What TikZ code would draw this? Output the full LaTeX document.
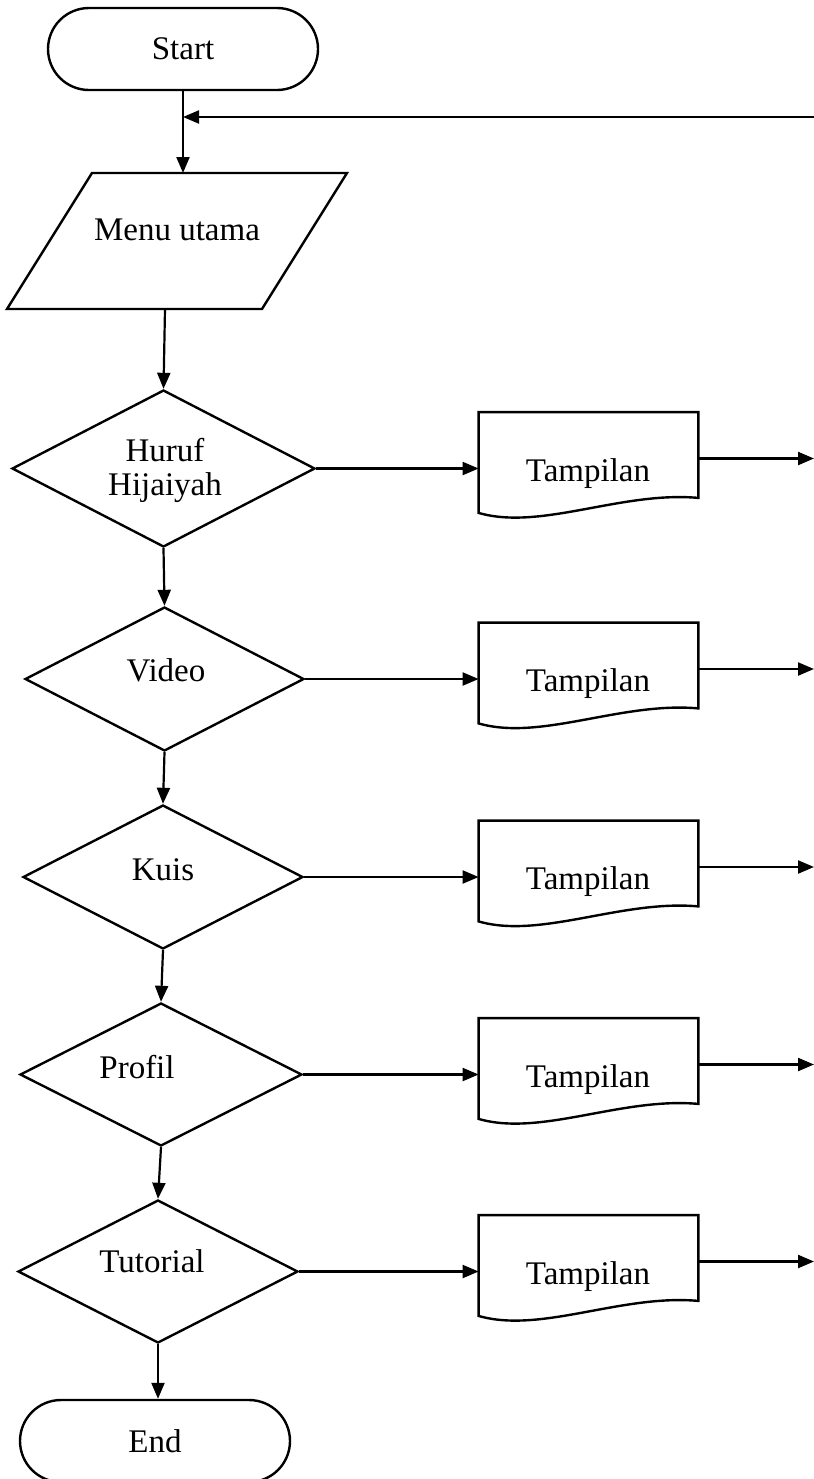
\documentclass[tikz,border=0pt]{standalone}
\usepackage{fontspec}
\setmainfont{Liberation Serif}
\usetikzlibrary{shapes.geometric,shapes.misc,arrows.meta}
\begin{document}
\begin{tikzpicture}[x=0.5pt,y=-0.5pt,
  shp/.style={draw=black, line width=1.2pt, line join=miter},
  txt/.style={font=\fontsize{16.5}{17}\selectfont},
  term/.style={shp, txt, rounded rectangle, minimum width=135pt, minimum height=41pt, inner sep=0pt},
  dec/.style={shp, diamond, inner sep=0pt},
  docbox/.style={rectangle, minimum width=109.5pt, minimum height=50pt, inner sep=0pt},
  lbl/.style={txt, inner sep=0pt, align=center},
  conn/.style={line width=1.1pt},
  arr/.style={conn, -{Triangle[length=8pt,width=6.5pt]}}
]
\useasboundingbox (0,0) rectangle (814,1479);

% terminators
\node[term] (start) at (183,49) {Start};
\node[term] (end) at (155,1441) {End};

% input/output (menu)
\draw[shp] (92,173) -- (347,173) -- (262,309) -- (7,309) -- cycle;
\node[lbl] (menu) at (177,230) {Menu utama};
\coordinate (menuin) at (183,173);
\coordinate (menuout) at (165,309);
\coordinate (loopin) at (183,117);
\coordinate (loopstart) at (814,117);

\draw[arr] (start.south) -- (menuin);
\draw[arr] (loopstart) -- (loopin);

% decisions
\node[dec, minimum width=151.5pt, minimum height=78.5pt] (d1) at (163.5,468.5) {};
\node[dec, minimum width=139.5pt, minimum height=72pt] (d2) at (164.5,679) {};
\node[dec, minimum width=140pt, minimum height=72pt] (d3) at (163,877) {};
\node[dec, minimum width=141pt, minimum height=71.5pt] (d4) at (161,1074.5) {};
\node[dec, minimum width=140pt, minimum height=71.5pt] (d5) at (158,1271.5) {};

\node[lbl] (t1) at (165,470) {Huruf\\Hijaiyah};
\node[lbl] (t2) at (166,670) {Video};
\node[lbl] (t3) at (163,870) {Kuis};
\node[lbl] (t4) at (137,1067) {Profil};
\node[lbl] (t5) at (152,1261) {Tutorial};

\draw[arr] (menuout) -- (d1.north);
\draw[arr] (d1.south) -- (d2.north);
\draw[arr] (d2.south) -- (d3.north);
\draw[arr] (d3.south) -- (d4.north);
\draw[arr] (d4.south) -- (d5.north);
\draw[arr] (d5.south) -- (d5.south |- end.north);

% documents
\foreach \i/\yc in {1/468.5, 2/679, 3/877, 4/1074.5, 5/1271.5}{
  \node[docbox] (doc\i) at (588.5,{\yc-6}) {};
  \draw[shp] (doc\i.north west) -- (doc\i.north east) -- ([yshift=7.5pt]doc\i.south east)
     .. controls +(-38.5pt,3.5pt) and +(31pt,-9pt) .. (doc\i.south west) -- cycle;
  \node[lbl] (tp\i) at (588,{\yc+5}) {Tampilan};
  \draw[arr] (d\i.east) -- (d\i.east -| doc\i.west);
  \coordinate (o\i) at (814,{\yc-10});
  \draw[arr] (doc\i.east |- o\i) -- (o\i);
}
\end{tikzpicture}
\end{document}
